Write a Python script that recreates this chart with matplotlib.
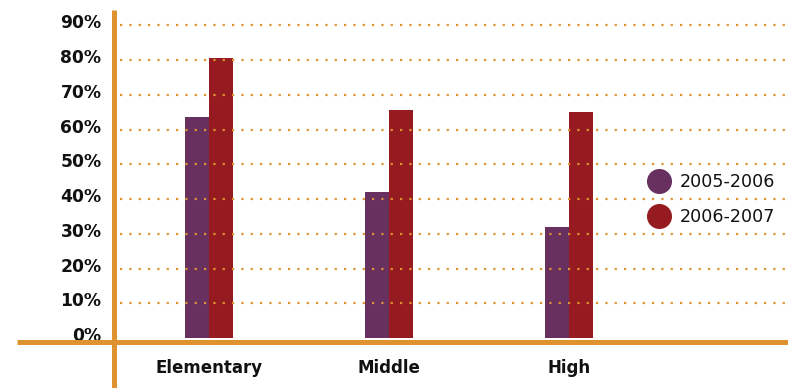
import matplotlib
matplotlib.use("Agg")
import matplotlib.pyplot as plt
from matplotlib.lines import Line2D
from matplotlib.transforms import ScaledTranslation
import numpy as np

categories = ["Elementary", "Middle", "High"]
series_names = ["2005-2006", "2006-2007"]
values_2005 = [63.5, 42, 32]
values_2006 = [80.5, 65.5, 65]
yticks = [0, 10, 20, 30, 40, 50, 60, 70, 80, 90]
ytick_labels = ["0%", "10%", "20%", "30%", "40%", "50%", "60%", "70%", "80%", "90%"]

PURPLE = "#67305F"
RED = "#961B20"
ORANGE = "#DE9230"

W, H = 788, 388
fig = plt.figure(figsize=(W / 100, H / 100), dpi=100)
# axes in pixel terms: left 114, right 788, bottom 338, top 10
ax = fig.add_axes([114 / W, (H - 338) / H, (788 - 114) / W, (338 - 10) / H])

x = np.arange(len(categories))
bw = 0.133
ax.bar(x - bw / 2, values_2005, width=bw, color=PURPLE, zorder=2)
ax.bar(x + bw / 2, values_2006, width=bw, color=RED, zorder=2)

ax.set_xlim(-0.528, 3.217)
ax.set_ylim(0, 94.4)

for s in ax.spines.values():
    s.set_visible(False)

# dotted gridlines (drawn above bars)
for yv in yticks[1:]:
    ax.plot([-0.495, 3.217], [yv, yv], color=ORANGE, lw=1.6,
            linestyle=(0, (1, 3.2)), dash_capstyle="butt", zorder=3)

# axis lines (figure coordinates)
fig.add_artist(Line2D([17 / W, 1.0], [(H - 341.5) / H, (H - 341.5) / H],
                      color=ORANGE, lw=3.6, solid_capstyle="butt"))
fig.add_artist(Line2D([114 / W, 114 / W], [(H - 10) / H, 0],
                      color=ORANGE, lw=3.6, solid_capstyle="butt"))

ax.set_yticks(yticks)
ax.set_yticklabels(ytick_labels, fontsize=12.3, fontweight="bold", color="#111111")
ax.set_xticks(x)
ax.set_xticklabels(categories, fontsize=12, fontweight="bold", color="#111111")
ax.tick_params(axis="y", length=0, pad=9)
ax.tick_params(axis="x", length=0, pad=15)
for lab in ax.get_yticklabels():
    lab.set_transform(lab.get_transform() + ScaledTranslation(0, 4 / 100, fig.dpi_scale_trans))

handles = [Line2D([], [], marker="o", linestyle="none", markersize=17,
                  markerfacecolor=c, markeredgecolor=c) for c in (PURPLE, RED)]
leg = fig.legend(handles, series_names, loc="center left",
                 bbox_to_anchor=(648.6 / W, (H - 199.5) / H), frameon=False,
                 handlelength=1.2, handletextpad=0.6, labelspacing=0.95,
                 borderpad=0, borderaxespad=0, prop={"size": 12.6})
for t in leg.get_texts():
    t.set_color("#111111")

fig.savefig("out.png", dpi=100)
